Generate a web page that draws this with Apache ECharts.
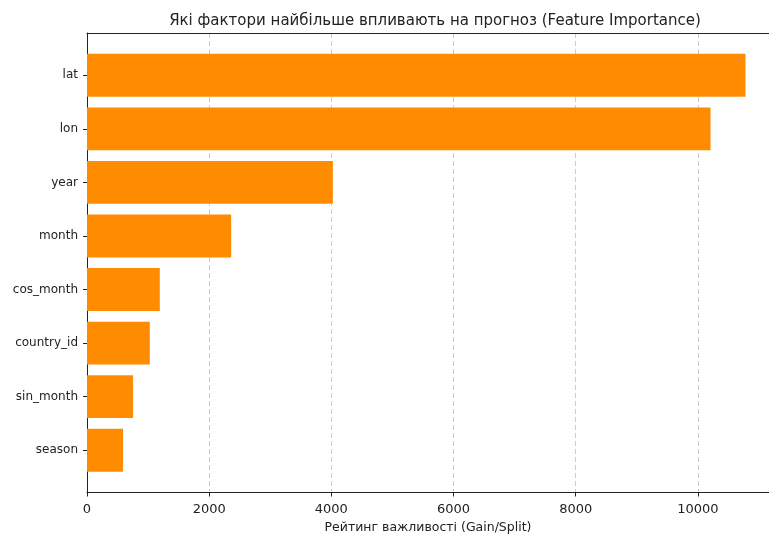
<!DOCTYPE html>
<html>
<head>
<meta charset="utf-8">
<script src="https://cdn.jsdelivr.net/npm/echarts@6/dist/echarts.min.js"></script>
<style>
  html, body { margin: 0; padding: 0; background: #fff; }
  #chart { width: 769px; height: 538px; }
</style>
</head>
<body>
<div id="chart"></div>
<script>
// ознаки, від найважливішої до найменш важливої
var features = ['lat', 'lon', 'year', 'month', 'cos_month', 'country_id', 'sin_month', 'season']
var importance = [10781, 10208, 4025, 2360, 1192, 1028, 754, 590]
var xTicks = [0, 2000, 4000, 6000, 8000, 10000]

var xMax = 11165
var font = 'DejaVu Sans'
var ink = '#222'

var chart = echarts.init(document.getElementById('chart'))

chart.setOption({
  animation: false,
  textStyle: { fontFamily: font },
  title: {
    text: 'Які фактори найбільше впливають на прогноз (Feature Importance)',
    left: 430,
    textAlign: 'center',
    top: 9,
    textStyle: { fontSize: 15, fontWeight: 'normal', color: ink, fontFamily: font }
  },
  grid: [
    // рамка осей (як у matplotlib)
    { left: 87, right: 0, top: 33, bottom: 45.5, outerBoundsMode: 'none' },
    // смуги категорій
    { left: 87, right: 0, top: 48.5, bottom: 61, outerBoundsMode: 'none' }
  ],
  xAxis: [
    {
      gridIndex: 0,
      type: 'value',
      min: 0,
      max: xMax,
      interval: 2000,
      name: 'Рейтинг важливості (Gain/Split)',
      nameLocation: 'middle',
      nameGap: 28,
      nameTextStyle: { fontSize: 12.5, color: ink, fontFamily: font },
      axisLine: { show: true, lineStyle: { color: ink, width: 1 } },
      axisTick: { show: true, length: 4, lineStyle: { color: ink } },
      axisLabel: {
        color: ink, fontSize: 13, margin: 11, fontFamily: font,
        customValues: xTicks,
        formatter: function (v) { return v }
      },
      splitLine: { show: true, lineStyle: { color: '#cccccc', type: [5, 3], width: 1 } }
    },
    {
      gridIndex: 0,
      type: 'value',
      position: 'top',
      min: 0,
      max: xMax,
      axisLine: { show: true, lineStyle: { color: ink, width: 1 } },
      axisTick: { show: false },
      axisLabel: { show: false },
      splitLine: { show: false }
    },
    {
      gridIndex: 1,
      type: 'value',
      min: 0,
      max: xMax,
      show: false
    }
  ],
  yAxis: [
    {
      gridIndex: 0,
      type: 'value',
      axisLine: { show: true, lineStyle: { color: ink, width: 1 } },
      axisTick: { show: false },
      axisLabel: { show: false },
      splitLine: { show: false }
    },
    {
      gridIndex: 1,
      type: 'category',
      inverse: true,
      data: features,
      axisLine: { show: false },
      axisTick: { show: true, alignWithLabel: true, length: 4, lineStyle: { color: ink } },
      axisLabel: { color: ink, fontSize: 12, margin: 9, fontFamily: font },
      splitLine: { show: false }
    }
  ],
  series: [
    {
      type: 'bar',
      xAxisIndex: 2,
      yAxisIndex: 1,
      data: importance,
      barWidth: '80%',
      itemStyle: { color: '#ff8c00' }
    }
  ]
})
</script>
</body>
</html>
